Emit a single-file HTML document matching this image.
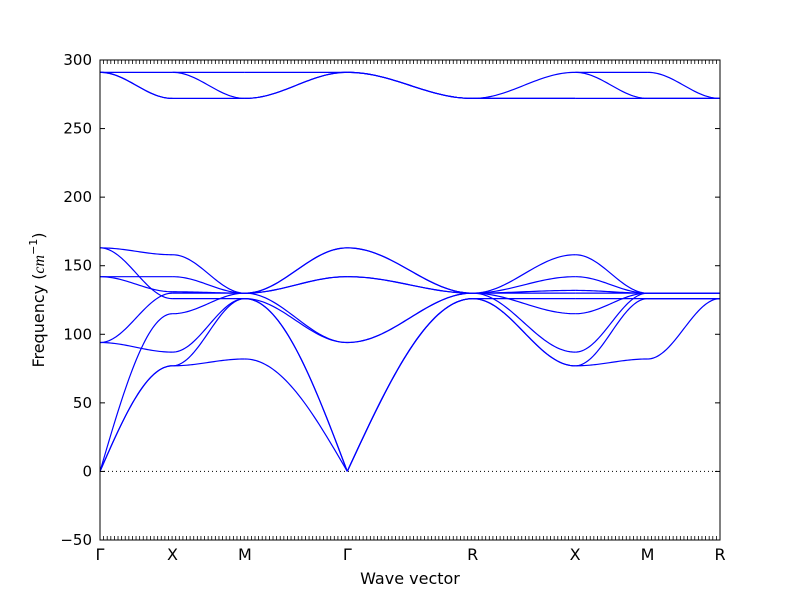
<!DOCTYPE html>
<html><head><meta charset="utf-8"><style>
body{margin:0;background:#fff;}
svg text{font-family:"DejaVu Sans","Liberation Sans",sans-serif;}
</style></head><body>
<svg id="chart" width="800" height="600" viewBox="0 0 800 600" xmlns="http://www.w3.org/2000/svg">
<rect x="0" y="0" width="800" height="600" fill="#fff"/>
<g id="bands"></g>
<g id="axes"></g>
<text x="410" y="584" font-size="16" text-anchor="middle">Wave vector</text>
<text transform="translate(44,300) rotate(-90)" font-size="16" text-anchor="middle">Frequency (<tspan font-style="italic" font-family="Liberation Serif">cm</tspan><tspan font-size="11" dy="-7">−1</tspan><tspan dy="7">)</tspan></text>
</svg>
<script>
const kpointLabels = ["Γ","X","M","Γ","R","X","M","R"];
const segmentLengths = [0.5,0.5,0.7071,0.866,0.7071,0.5,0.5];
const yTicks = [-50,0,50,100,150,200,250,300];
// each segment: list of [startFreq, endFreq, shape]; shape c=smooth, a=acoustic from start, b=acoustic to end
const seg0 = [[0,77,"a"],[0,77,"a"],[0,115,"a"],[94,87,"c"],[94,130,"c"],[142,142,"c"],[142,131,"c"],[163,158,"c"],[163,126,"c"],[291,291,"c"],[291,272,"c"],[291,272,"c"]];
const seg1 = [[77,82,"c"],[77,126,"c"],[115,130,"c"],[87,126,"c"],[130,130,"c"],[131,130,"c"],[126,126,"c"],[142,130,"c"],[158,130,"c"],[291,291,"c"],[291,272,"c"],[272,272,"c"]];
const seg2 = [[82,0,"b"],[126,0,"b"],[126,0,"b"],[130,94,"c"],[126,94,"c"],[130,142,"c"],[130,142,"c"],[130,163,"c"],[130,163,"c"],[291,291,"c"],[272,291,"c"],[272,291,"c"]];
const seg3 = [[0,126,"a"],[0,126,"a"],[0,126,"a"],[94,130,"c"],[94,130,"c"],[142,130,"c"],[142,130,"c"],[163,130,"c"],[163,130,"c"],[291,272,"c"],[291,272,"c"],[291,272,"c"]];
const seg4 = [[130,158,"c"],[130,142,"c"],[130,132,"c"],[130,130,"c"],[126,126,"c"],[130,115,"c"],[130,87,"c"],[126,77,"c"],[126,77,"c"],[272,291,"c"],[272,272,"c"],[272,272,"c"]];
const seg5 = [[158,130,"c"],[142,130,"c"],[132,130,"c"],[130,130,"c"],[126,126,"c"],[115,130,"c"],[87,130,"c"],[77,126,"c"],[77,82,"c"],[291,291,"c"],[291,272,"c"],[272,272,"c"]];
const seg6 = [[130,130,"c"],[130,130,"c"],[126,126,"c"],[82,126,"c"],[130,130,"c"],[126,126,"c"],[130,130,"c"],[126,126,"c"],[130,130,"c"],[291,272,"c"],[272,272,"c"],[272,272,"c"]];
const segments = [seg0,seg1,seg2,seg3,seg4,seg5,seg6];

const L=100,R=720,T=60,B=540,yMin=-50,yMax=300;
const total=segmentLengths.reduce((a,b)=>a+b,0);
const xs=d=>L+(R-L)*d/total;
const ys=v=>B-(B-T)*(v-yMin)/(yMax-yMin);
const NS="http://www.w3.org/2000/svg";
function mk(tag,attrs,parent){const e=document.createElementNS(NS,tag);for(const k in attrs)e.setAttribute(k,attrs[k]);parent.appendChild(e);return e;}
const bands=document.getElementById('bands'),axes=document.getElementById('axes');
// zero line
const z=mk('line',{x1:L,x2:R,y1:ys(0),y2:ys(0),stroke:'#000','stroke-width':1,'stroke-dasharray':'1,3'},axes);


let cum=[0];segmentLengths.forEach(l=>cum.push(cum[cum.length-1]+l));
segments.forEach((seg,si)=>{
  const x0=xs(cum[si]),x1=xs(cum[si+1]);
  seg.forEach((b,bi)=>{
    const [s,e,sh]=b;let d='';
    for(let i=0;i<=40;i++){const t=i/40;let f;
      if(sh==='a')f=Math.sin(Math.PI/2*t);
      else if(sh==='b')f=1-Math.sin(Math.PI/2*(1-t));
      else f=(1-Math.cos(Math.PI*t))/2;
      const v=s+(e-s)*f;
      d+=(i?'L':'M')+(x0+(x1-x0)*t).toFixed(2)+','+ys(v).toFixed(2);}
    const p=mk('path',{d:d,fill:'none',stroke:'#0000ff','stroke-width':1.2},bands);
    
    
  });
});
const fr=mk('rect',{x:L,y:T,width:R-L,height:B-T,fill:'none',stroke:'#000','stroke-width':1},axes);


yTicks.forEach(v=>{
  mk('line',{x1:L,x2:L+5,y1:ys(v),y2:ys(v),stroke:'#000'},axes);
  mk('line',{x1:R,x2:R-5,y1:ys(v),y2:ys(v),stroke:'#000'},axes);
  const t=mk('text',{x:L-8,y:ys(v)+5,'font-size':15,'text-anchor':'end'},axes);
  t.textContent=(v<0?'−':'')+Math.abs(v);
  
  
});
const nMinor=172;
for(let i=1;i<nMinor;i++){const x=L+(R-L)*i/nMinor;
  mk('line',{x1:x,x2:x,y1:B,y2:B-4,stroke:'#000','stroke-width':0.8},axes);
  mk('line',{x1:x,x2:x,y1:T,y2:T+4,stroke:'#000','stroke-width':0.8},axes);}
kpointLabels.forEach((lab,i)=>{
  const t=mk('text',{x:xs(cum[i]),y:B+20,'font-size':16,'text-anchor':'middle'},axes);
  t.textContent=lab;
  
  
});
</script>
</body></html>
